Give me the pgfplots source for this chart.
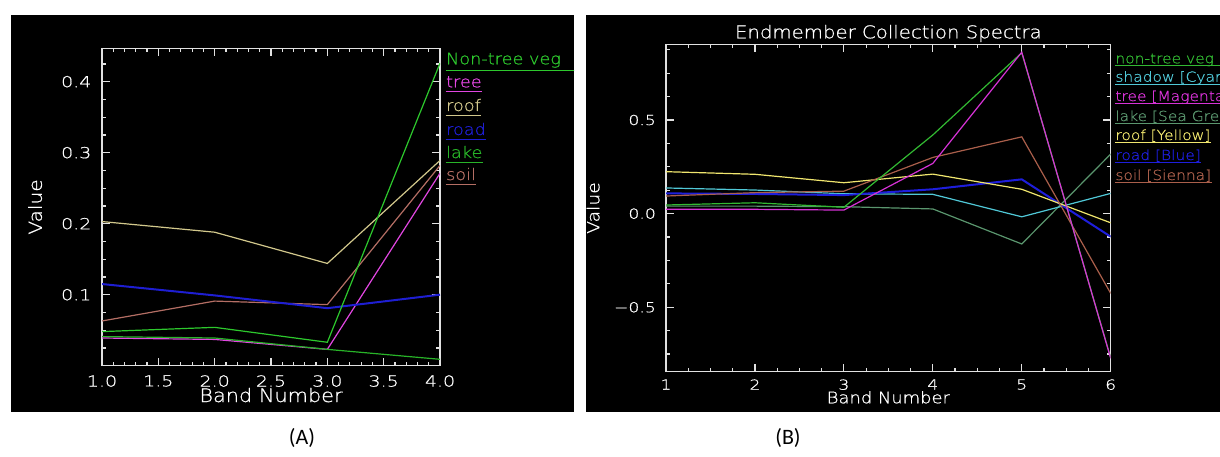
\documentclass[border=0pt]{standalone}
\usepackage{fontspec}
\usepackage{pgfplots}
\pgfplotsset{compat=1.18}

% plotting fonts: wide, light sans for the spectra windows
\newfontfamily\hfont[FakeStretch=1.12,FakeBold=0.8]{DejaVu Sans ExtraLight}
\newfontfamily\hnum[FakeStretch=1.25,FakeBold=0.8]{DejaVu Sans ExtraLight}
\newfontfamily\capfont{Carlito}

\definecolor{axisgray}{RGB}{225,225,225}
% panel A
\definecolor{vegA}{RGB}{45,200,45}
\definecolor{treeA}{RGB}{225,70,225}
\definecolor{roofA}{RGB}{210,200,140}
\definecolor{roadA}{RGB}{30,30,210}
\definecolor{lakeA}{RGB}{40,180,40}
\definecolor{soilA}{RGB}{180,110,100}
% panel B
\definecolor{vegB}{RGB}{50,185,50}
\definecolor{shadowB}{RGB}{80,200,215}
\definecolor{treeB}{RGB}{215,50,215}
\definecolor{lakeB}{RGB}{90,150,110}
\definecolor{roofB}{RGB}{240,230,110}
\definecolor{roadB}{RGB}{30,30,220}
\definecolor{soilB}{RGB}{170,95,75}

% legend entry: coloured text with a matching underline
% #1 node name, #2 colour, #3 position, #4 text, #5 underline drop
\newcommand\ulabel[5]{%
  \node[anchor=base west, inner sep=0pt, text=#2] (#1) at (#3) {#4};
  \draw[#2, line width=0.6bp] ([yshift=-#5]#1.base west) -- ([yshift=-#5]#1.base east);
}

\pgfplotsset{
  idlbox/.style={
    scale only axis, anchor=south west,
    axis line style={draw=axisgray, line width=0.6bp},
    every tick/.style={draw=axisgray, line width=0.6bp},
    major tick length=4bp, minor tick length=2bp,
    tick label style={text=white},
    label style={text=white},
    every axis plot/.append style={line width=0.6bp},
    every axis title shift=0pt,
  }
}

\begin{document}
\begin{tikzpicture}
\useasboundingbox (0,0) rectangle (610bp,228.5bp);
\fill[white] (0,0) rectangle (610bp,228.5bp);
\clip (0,0) rectangle (610bp,228.5bp);
\fill[black] (5.5bp,22.5bp) rectangle (287bp,221bp);
\fill[black] (293bp,22.5bp) rectangle (610bp,221bp);

% ---------------- (A) four-band endmembers ----------------
\begin{axis}[idlbox,
  at={(51bp,45.65bp)}, width=169bp, height=158.7bp,
  xmin=1, xmax=4, ymin=0, ymax=0.447,
  xtick={1,1.5,2,2.5,3,3.5,4},
  xticklabels={1.0,1.5,2.0,2.5,3.0,3.5,4.0},
  minor xtick={1.1,1.2,1.3,1.4,1.6,1.7,1.8,1.9,2.1,2.2,2.3,2.4,2.6,2.7,2.8,2.9,3.1,3.2,3.3,3.4,3.6,3.7,3.8,3.9},
  ytick={0.1,0.2,0.3,0.4},
  yticklabels={0.1,0.2,0.3,0.4},
  minor ytick={0.025,0.05,0.075,0.125,0.15,0.175,0.225,0.25,0.275,0.325,0.35,0.375,0.425},
  tick label style={font=\fontsize{7.6bp}{8bp}\hnum},
  xticklabel style={yshift=-1.27bp},
  yticklabel style={xshift=-1.8bp},
  xlabel={Band Number}, ylabel={Value},
  xlabel style={font=\fontsize{9.3bp}{10bp}\hfont, at={(axis description cs:0.5,-0.1144)}, anchor=base},
  ylabel style={font=\fontsize{9bp}{10bp}\hfont, at={(axis description cs:-0.198,0.5)}, anchor=center},
]
\addplot[treeA, no markers] coordinates {(1,0.039) (2,0.037) (3,0.023) (4,0.271)};
\addplot[lakeA, no markers] coordinates {(1,0.041) (2,0.039) (3,0.023) (4,0.009)};
\addplot[soilA, no markers] coordinates {(1,0.063) (2,0.091) (3,0.086) (4,0.282)};
\addplot[roadA, no markers, line width=1bp] coordinates {(1,0.115) (2,0.099) (3,0.081) (4,0.100)};
\addplot[roofA, no markers] coordinates {(1,0.203) (2,0.188) (3,0.144) (4,0.289)};
\addplot[vegA, no markers] coordinates {(1,0.048) (2,0.054) (3,0.033) (4,0.426)};
\end{axis}

\begin{scope}
\clip (5.5bp,22.5bp) rectangle (287bp,221bp);
\begin{scope}[font=\fontsize{7.9bp}{8bp}\hfont]
\node[anchor=base west, inner sep=0pt, text=vegA] (la1) at (222.85bp,196.35bp) {Non-tree veg};
\draw[vegA, line width=0.6bp] ([yshift=-3bp]la1.base west) -- ++(70bp,0);
\ulabel{la2}{treeA}{222.85bp,184.85bp}{tree}{2.3bp}
\ulabel{la3}{roofA}{222.85bp,173bp}{roof}{2.3bp}
\ulabel{la4}{roadA}{222.85bp,161bp}{road}{2.3bp}
\ulabel{la5}{lakeA}{222.85bp,149.5bp}{lake}{2.3bp}
\ulabel{la6}{soilA}{222.85bp,138.5bp}{soil}{2.3bp}
\end{scope}
\end{scope}

% ---------------- (B) six-band endmember collection ----------------
\begin{axis}[idlbox,
  at={(333bp,42.65bp)}, width=222.35bp, height=163.7bp,
  xmin=1, xmax=6, ymin=-0.844, ymax=0.904,
  xtick={1,2,3,4,5,6},
  xticklabels={1,2,3,4,5,6},
  minor xtick={1.25,1.5,1.75,2.25,2.5,2.75,3.25,3.5,3.75,4.25,4.5,4.75,5.25,5.5,5.75},
  ytick={-0.5,0,0.5},
  yticklabels={−0.5,0.0,0.5},
  minor ytick={-0.75,-0.625,-0.375,-0.25,-0.125,0.125,0.25,0.375,0.625,0.75,0.875},
  tick label style={font=\fontsize{6.9bp}{7bp}\hnum},
  xticklabel style={yshift=-0.35bp},
  yticklabel style={xshift=-1.55bp},
  title={Endmember Collection Spectra},
  title style={font=\fontsize{8.8bp}{9bp}\hfont, text=white, at={(axis description cs:0.5,1)}, anchor=base, yshift=3bp},
  xlabel={Band Number}, ylabel={Value},
  xlabel style={font=\fontsize{8bp}{9bp}\hfont, at={(axis description cs:0.5,-0.0965)}, anchor=base},
  ylabel style={font=\fontsize{8.4bp}{9bp}\hfont, at={(axis description cs:-0.164,0.5)}, anchor=center},
]
\addplot[lakeB, no markers] coordinates {(1,0.040) (2,0.040) (3,0.037) (4,0.025) (5,-0.162) (6,0.318)};
\addplot[shadowB, no markers] coordinates {(1,0.137) (2,0.126) (3,0.106) (4,0.103) (5,-0.017) (6,0.108)};
\addplot[roadB, no markers, line width=1bp] coordinates {(1,0.108) (2,0.105) (3,0.099) (4,0.130) (5,0.183) (6,-0.123)};
\addplot[roofB, no markers] coordinates {(1,0.224) (2,0.210) (3,0.165) (4,0.211) (5,0.130) (6,-0.049)};
\addplot[soilB, no markers] coordinates {(1,0.094) (2,0.112) (3,0.120) (4,0.300) (5,0.410) (6,-0.426)};
\addplot[vegB, no markers] coordinates {(1,0.046) (2,0.058) (3,0.034) (4,0.420) (5,0.859) (6,-0.770)};
\addplot[treeB, no markers] coordinates {(1,0.023) (2,0.023) (3,0.019) (4,0.268) (5,0.862) (6,-0.773)};
\end{axis}

\begin{scope}[font=\fontsize{6.9bp}{7bp}\hfont]
\ulabel{lb1}{vegB}{557.5bp,196.85bp}{non-tree veg [Green]}{1.3bp}
\ulabel{lb2}{shadowB}{557.5bp,187.65bp}{shadow [Cyan]}{1.3bp}
\ulabel{lb3}{treeB}{557.5bp,178bp}{tree [Magenta]}{1.3bp}
\ulabel{lb4}{lakeB}{557.5bp,168bp}{lake [Sea Green]}{1.3bp}
\ulabel{lb5}{roofB}{557.5bp,158.5bp}{roof [Yellow]}{1.3bp}
\ulabel{lb6}{roadB}{557.5bp,148.5bp}{road [Blue]}{1.3bp}
\ulabel{lb7}{soilB}{557.5bp,138.5bp}{soil [Sienna]}{1.3bp}
\end{scope}

% panel captions
\node[font=\fontsize{11bp}{12bp}\capfont] at (151bp,9.5bp) {(A)};
\node[font=\fontsize{11bp}{12bp}\capfont] at (394bp,9.5bp) {(B)};
\end{tikzpicture}
\end{document}
